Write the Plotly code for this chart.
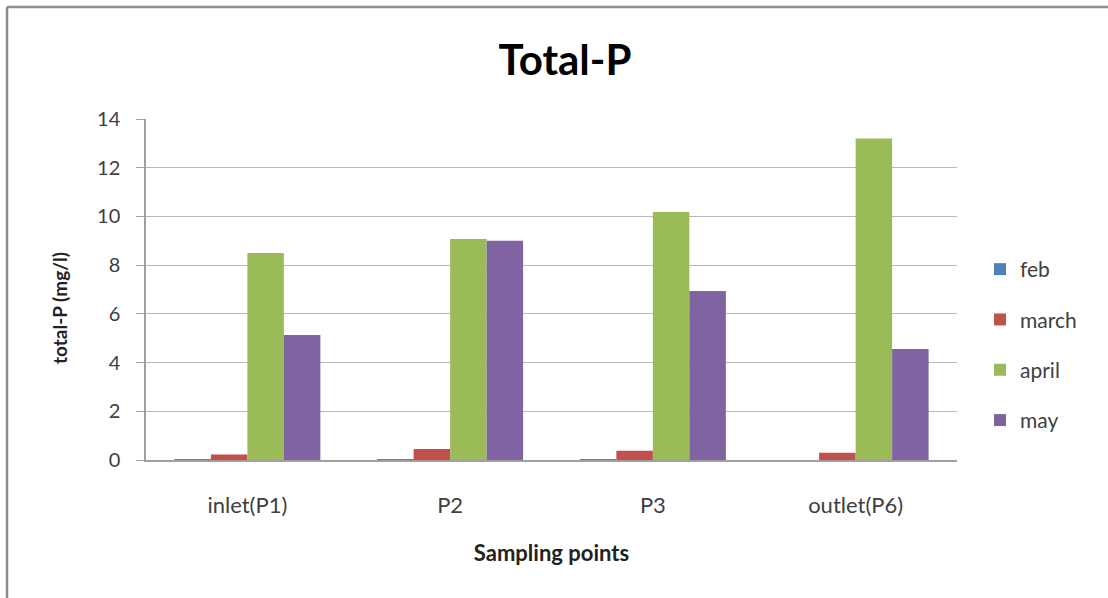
import plotly.graph_objects as go

# Sampling sites and monthly total phosphorus concentrations (mg/l)
sites = ["inlet(P1)", "P2", "P3", "outlet(P6)"]
months = ["feb", "march", "april", "may"]
feb = [0.03, 0.03, 0.03, 0.0]
march = [0.23, 0.45, 0.38, 0.3]
april = [8.5, 9.07, 10.18, 13.2]
may = [5.13, 9.0, 6.94, 4.56]
series = [feb, march, april, may]
colors = ["#4F81BD", "#C0504D", "#9BBB59", "#8064A2"]

FONT = "Lato, 'Open Sans', sans-serif"

W, H = 1108, 598
ML, MR, MT, MB = 146, 151, 119, 138
PW = W - ML - MR
PH = H - MT - MB

fig = go.Figure()
for name, vals, col in zip(months, series, colors):
    fig.add_trace(go.Bar(
        x=sites, y=vals, name=name, legendgroup=name,
        marker=dict(color=col, line=dict(width=0)),
    ))

fig.update_layout(
    width=W, height=H,
    margin=dict(l=ML, r=MR, t=MT, b=MB),
    paper_bgcolor="white", plot_bgcolor="white",
    barmode="group", bargap=0.28, bargroupgap=0,
    font=dict(family=FONT, color="#404040"),
    title=dict(text="<b>Total-P</b>", x=(565) / W, xanchor="center",
               y=1 - 60 / H, yanchor="middle",
               font=dict(size=42, color="black", family=FONT)),
    xaxis=dict(
        showline=True, linecolor="#A0A0A0", linewidth=1.5,
        ticks="", ticklabelstandoff=25,
        tickfont=dict(size=22, color="#404040"),
        title=dict(text="<b>Sampling points</b>", standoff=28,
                   font=dict(size=22, color="#222222")),
    ),
    yaxis=dict(
        range=[0, 14], dtick=2, tickformat="d",
        showline=True, linecolor="#A0A0A0", linewidth=1.5,
        ticks="outside", ticklen=8, tickcolor="#A0A0A0",
        ticklabelstandoff=12,
        showgrid=True, gridcolor="#B8B8B8", gridwidth=1,
        zeroline=False,
        tickfont=dict(size=20, color="#404040"),
    ),
    legend=dict(
        x=(980 - ML) / PW, xanchor="left",
        y=(H - MB - 345) / PH, yanchor="middle",
        font=dict(size=21, color="#404040"),
        tracegroupgap=20, itemwidth=30,
        bgcolor="rgba(0,0,0,0)",
    ),
    showlegend=True,
)

# Y-axis title placed as a rotated annotation
fig.add_annotation(
    text="<b>total-P (mg/l)</b>", textangle=-90, showarrow=False,
    xref="paper", yref="paper",
    x=(59 - ML) / PW, y=(H - MB - 308) / PH,
    xanchor="center", yanchor="middle",
    font=dict(size=19, color="#222222", family=FONT),
)

# Outer chart frame (left and top edges visible)
x_left = (7 - ML) / PW
y_top = (H - MB - 7) / PH
fig.add_shape(type="line", xref="paper", yref="paper",
              x0=x_left, x1=x_left, y0=-1, y1=y_top,
              line=dict(color="#8C8C8C", width=2.5))
fig.add_shape(type="line", xref="paper", yref="paper",
              x0=x_left, x1=1.5, y0=y_top, y1=y_top,
              line=dict(color="#8C8C8C", width=2.5))

fig.write_html("out.html")
